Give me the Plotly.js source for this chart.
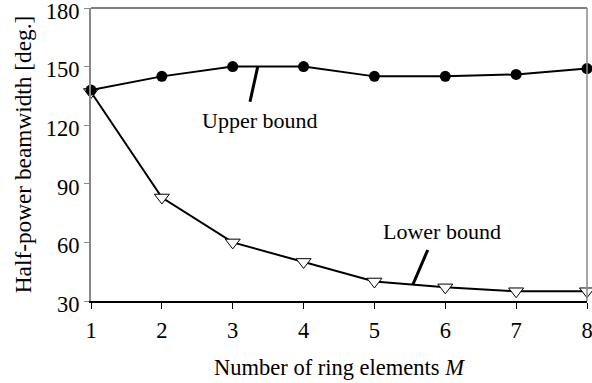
<!DOCTYPE html>
<html>
<head>
<meta charset="utf-8">
<script src="https://cdn.plot.ly/plotly-3.0.1.min.js"></script>
<style>html,body{margin:0;padding:0;background:#fff;}#chart{width:592px;height:383px;}</style>
</head>
<body>
<div id="chart"></div>
<script>
const elements = [1, 2, 3, 4, 5, 6, 7, 8];
const upperBound = [138, 145, 150, 150, 145, 145, 146, 149];
const lowerBound = [137, 83, 60, 50, 40, 37, 35, 35];
const yTicks = [30, 60, 90, 120, 150, 180];
const FONT = 'Liberation Serif, Times New Roman, serif';

const traces = [
  {
    x: elements, y: lowerBound, type: 'scatter', mode: 'lines+markers',
    line: {color: '#000', width: 2},
    marker: {symbol: 'triangle-down', size: 13, color: '#fff', line: {color: '#000', width: 1}},
    cliponaxis: false, showlegend: false
  },
  {
    x: elements, y: upperBound, type: 'scatter', mode: 'lines+markers',
    line: {color: '#000', width: 2},
    marker: {symbol: 'circle', size: 11, color: '#000'},
    cliponaxis: false, showlegend: false
  }
];

const layout = {
  width: 592, height: 383,
  margin: {l: 91, r: 5, t: 8, b: 82},
  paper_bgcolor: '#fff', plot_bgcolor: '#fff',
  font: {family: FONT, size: 22, color: '#000'},
  xaxis: {
    range: [1, 8], tickvals: elements, ticks: 'outside', ticklen: 6, tickcolor: '#000',
    showline: true, linecolor: '#000', linewidth: 2, showgrid: false, zeroline: false,
    ticklabeloverflow: 'allow', ticklabelstandoff: 2,
    tickfont: {family: FONT, size: 22.5},
    title: {text: 'Number of ring elements <i>M</i>', font: {family: FONT, size: 22.5}, standoff: 17}
  },
  yaxis: {
    range: [30, 180], tickvals: yTicks, ticks: 'outside', ticklen: 5, tickcolor: '#888',
    showline: true, linecolor: '#888', linewidth: 2, showgrid: false, zeroline: false,
    ticklabeloverflow: 'allow', ticklabelshift: 3,
    tickfont: {family: FONT, size: 22.5},
    title: {text: 'Half-power beamwidth [deg.]', font: {family: FONT, size: 23.3}, standoff: 8}
  },
  shapes: [
    {type: 'line', xref: 'paper', yref: 'paper', x0: 0, x1: 1, y0: 1, y1: 1, line: {color: '#555', width: 1.5}},
    {type: 'line', xref: 'paper', yref: 'paper', x0: 1, x1: 1, y0: 0, y1: 1, line: {color: '#888', width: 1.5}},
    {type: 'line', xref: 'x', yref: 'y', x0: 3.353, y0: 150, x1: 3.244, y1: 132, line: {color: '#000', width: 3}},
    {type: 'line', xref: 'x', yref: 'y', x0: 5.752, y0: 56.1, x1: 5.54, y1: 38.2, line: {color: '#000', width: 3}}
  ],
  annotations: [
    {x: 3.385, y: 122.5, xref: 'x', yref: 'y', text: 'Upper bound', showarrow: false, font: {family: FONT, size: 22}},
    {x: 5.953, y: 65.5, xref: 'x', yref: 'y', text: 'Lower bound', showarrow: false, font: {family: FONT, size: 22}}
  ]
};

Plotly.newPlot('chart', traces, layout, {displayModeBar: false, staticPlot: true});
</script>
</body>
</html>
